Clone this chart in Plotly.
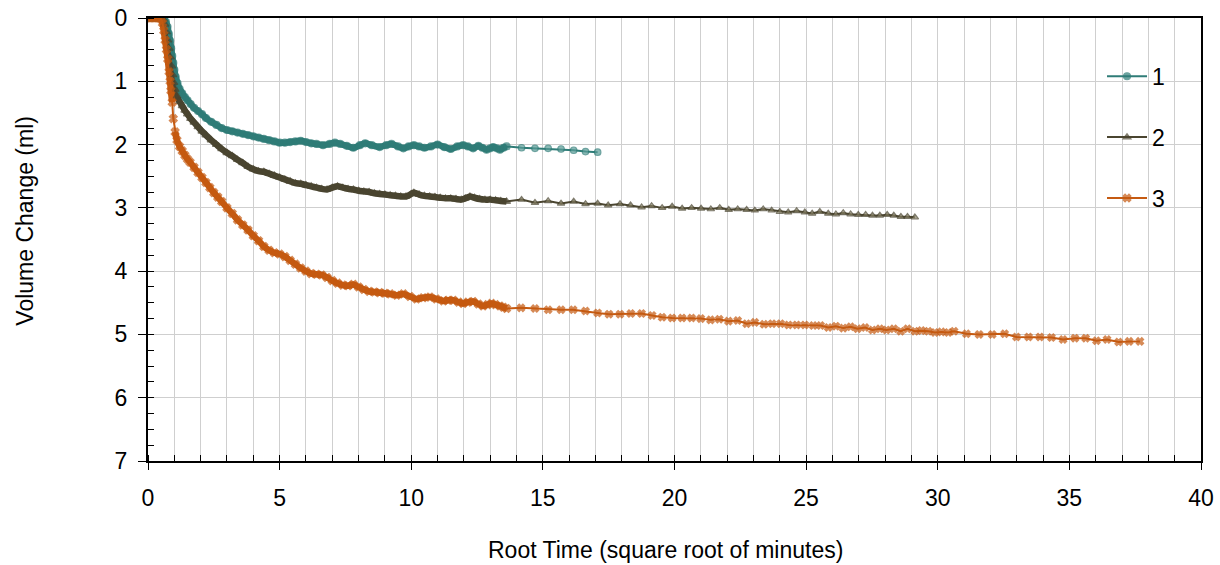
import plotly.graph_objects as go

# Root time (sqrt of minutes) and volume change (ml) for each specimen
x1 = [0.0, 0.1, 0.2, 0.3, 0.4, 0.5, 0.6, 0.68, 0.74, 0.79, 0.84, 0.88, 0.92, 0.96, 1.0, 1.05,
      1.12, 1.2, 1.3, 1.4, 1.5, 1.62, 1.75, 1.9, 2.05, 2.2, 2.4, 2.6, 2.8, 3.0, 3.2, 3.4, 3.6,
      3.8, 4.0, 4.2, 4.4, 4.6, 4.8, 5.0, 5.2, 5.4, 5.6, 5.8, 6.0, 6.2, 6.4, 6.65, 6.9, 7.1,
      7.3, 7.55, 7.8, 8.05, 8.25, 8.5, 8.8, 9.05, 9.25, 9.5, 9.7, 9.9, 10.1, 10.3, 10.5, 10.75,
      11.0, 11.25, 11.5, 11.75, 11.97, 12.15, 12.35, 12.55, 12.7, 12.86, 13.0, 13.11, 13.25,
      13.37, 13.5, 13.62,
      14.19, 14.70, 15.20, 15.69, 16.17, 16.62, 17.08]
y1 = [0.0, 0.0, 0.0, 0.0, 0.0, 0.0, 0.01, 0.06, 0.14, 0.25, 0.36, 0.48, 0.60, 0.71, 0.82, 0.93,
      1.03, 1.12, 1.19, 1.25, 1.30, 1.36, 1.42, 1.47, 1.52, 1.58, 1.64, 1.69, 1.74, 1.77, 1.79,
      1.81, 1.83, 1.85, 1.87, 1.89, 1.91, 1.93, 1.95, 1.97, 1.97, 1.96, 1.95, 1.94, 1.96, 1.98,
      1.99, 2.01, 1.99, 1.97, 1.99, 2.02, 2.05, 2.01, 1.98, 2.01, 2.04, 2.01, 1.99, 2.03, 2.06,
      2.03, 2.01, 2.03, 2.05, 2.03, 2.00, 2.04, 2.07, 2.03, 2.01, 2.03, 2.06, 2.02, 2.05, 2.08,
      2.06, 2.04, 2.06, 2.08, 2.05, 2.03,
      2.05, 2.06, 2.06, 2.07, 2.09, 2.11, 2.12]

x2 = [0.0, 0.1, 0.2, 0.3, 0.4, 0.5, 0.58, 0.64, 0.7, 0.75, 0.8, 0.85, 0.9, 0.94, 0.98, 1.03,
      1.1, 1.2, 1.3, 1.4, 1.5, 1.62, 1.75, 1.9, 2.05, 2.2, 2.4, 2.6, 2.8, 3.0, 3.2, 3.4, 3.6,
      3.8, 4.0, 4.2, 4.4, 4.6, 4.8, 5.0, 5.2, 5.4, 5.6, 5.8, 6.0, 6.2, 6.4, 6.6, 6.8, 7.0, 7.2,
      7.4, 7.6, 7.8, 8.0, 8.2, 8.4, 8.6, 8.8, 9.0, 9.2, 9.4, 9.6, 9.8, 10.0, 10.1, 10.3, 10.5,
      10.7, 10.9, 11.1, 11.3, 11.5, 11.7, 11.9, 12.05, 12.23, 12.4, 12.6, 12.8, 13.0, 13.2,
      13.4, 13.62,
      14.19, 14.70, 15.20, 15.69, 16.17, 16.62, 17.08, 17.48, 17.93, 18.33, 18.75, 19.13, 19.53,
      19.91, 20.29, 20.65, 21.01, 21.38, 21.72, 22.06, 22.40, 22.74, 23.05, 23.37, 23.69, 24.00,
      24.32, 24.64, 24.95, 25.23, 25.52, 25.84, 26.13, 26.41, 26.69, 26.98, 27.26, 27.52, 27.80,
      28.08, 28.33, 28.60, 28.85, 29.13]
y2 = [0.0, 0.0, 0.0, 0.0, 0.0, 0.0, 0.02, 0.10, 0.22, 0.35, 0.48, 0.62, 0.76, 0.90, 1.02, 1.13,
      1.24, 1.32, 1.39, 1.46, 1.52, 1.59, 1.65, 1.72, 1.79, 1.85, 1.93, 2.00, 2.07, 2.13, 2.18,
      2.24, 2.29, 2.35, 2.39, 2.42, 2.43, 2.46, 2.49, 2.52, 2.55, 2.58, 2.61, 2.62, 2.64, 2.66,
      2.68, 2.70, 2.71, 2.68, 2.66, 2.68, 2.70, 2.71, 2.73, 2.74, 2.75, 2.77, 2.78, 2.79, 2.80,
      2.81, 2.82, 2.82, 2.78, 2.76, 2.79, 2.81, 2.82, 2.83, 2.84, 2.85, 2.85, 2.86, 2.87, 2.85,
      2.82, 2.84, 2.86, 2.87, 2.87, 2.88, 2.89, 2.90,
      2.87, 2.92, 2.89, 2.93, 2.90, 2.94, 2.93, 2.96, 2.94, 2.96, 2.99, 2.97, 3.00, 2.98, 3.01,
      3.00, 3.01, 3.02, 3.00, 3.03, 3.02, 3.03, 3.04, 3.02, 3.04, 3.06, 3.07, 3.05, 3.07, 3.09,
      3.06, 3.09, 3.10, 3.08, 3.10, 3.11, 3.11, 3.12, 3.12, 3.11, 3.12, 3.14, 3.14, 3.15]

x3 = [0.0, 0.1, 0.2, 0.3, 0.4, 0.5, 0.55, 0.6, 0.65, 0.7, 0.75, 0.8, 0.84, 0.87, 0.92, 0.96,
      1.03, 1.1, 1.2, 1.3, 1.4, 1.5, 1.6, 1.75, 1.9, 2.05, 2.2, 2.35, 2.5, 2.65, 2.8, 3.0, 3.2,
      3.4, 3.6, 3.8, 4.0, 4.2, 4.4, 4.6, 4.8, 5.0, 5.2, 5.4, 5.6, 5.8, 6.0, 6.2, 6.4, 6.6, 6.8,
      7.0, 7.2, 7.4, 7.6, 7.8, 8.0, 8.2, 8.4, 8.6, 8.8, 9.0, 9.2, 9.45, 9.7, 9.95, 10.2, 10.45,
      10.71, 10.95, 11.22, 11.4, 11.6, 11.8, 11.97, 12.15, 12.35, 12.55, 12.73, 12.9, 13.05,
      13.2, 13.37, 13.5, 13.62,
      14.17, 14.70, 15.20, 15.69, 16.15, 16.62, 17.08, 17.51, 17.93, 18.34, 18.75, 19.15, 19.53,
      19.91, 20.29, 20.65, 21.00, 21.37, 21.70, 22.05, 22.40, 22.74, 23.05, 23.40, 23.71, 24.03,
      24.33, 24.64, 24.95, 25.27, 25.55, 25.84, 26.13, 26.41, 26.69, 26.95, 27.24, 27.52, 27.80,
      28.05, 28.33, 28.59, 28.85, 29.13, 29.38, 29.64, 29.89, 30.14, 30.40, 30.62, 31.09, 31.57,
      32.07, 32.54, 32.99, 33.45, 33.88, 34.32, 34.76, 35.21, 35.62, 36.03, 36.43, 36.87, 37.27,
      37.68]
y3 = [0.0, 0.0, 0.0, 0.0, 0.0, 0.02, 0.08, 0.20, 0.35, 0.50, 0.65, 0.85, 1.00, 1.15, 1.33, 1.59,
      1.80, 1.93, 2.03, 2.10, 2.17, 2.23, 2.28, 2.36, 2.44, 2.52, 2.60, 2.68, 2.76, 2.83, 2.90,
      3.00, 3.09, 3.19, 3.27, 3.35, 3.44, 3.52, 3.61, 3.67, 3.71, 3.73, 3.77, 3.83, 3.89, 3.95,
      4.00, 4.04, 4.05, 4.06, 4.10, 4.15, 4.19, 4.22, 4.23, 4.21, 4.25, 4.29, 4.32, 4.33, 4.34,
      4.35, 4.36, 4.38, 4.36, 4.40, 4.44, 4.42, 4.41, 4.44, 4.47, 4.46, 4.46, 4.49, 4.51, 4.49,
      4.48, 4.52, 4.55, 4.53, 4.51, 4.53, 4.55, 4.57, 4.59,
      4.58, 4.59, 4.61, 4.61, 4.61, 4.63, 4.66, 4.68, 4.68, 4.67, 4.67, 4.70, 4.73, 4.74, 4.74,
      4.74, 4.75, 4.77, 4.76, 4.79, 4.78, 4.83, 4.81, 4.84, 4.83, 4.83, 4.85, 4.85, 4.85, 4.86,
      4.86, 4.89, 4.87, 4.90, 4.88, 4.91, 4.89, 4.93, 4.91, 4.93, 4.91, 4.95, 4.91, 4.95, 4.94,
      4.95, 4.97, 4.96, 4.97, 4.95, 4.99, 5.00, 5.00, 4.99, 5.04, 5.04, 5.04, 5.05, 5.08, 5.06,
      5.06, 5.10, 5.08, 5.12, 5.11, 5.11]

series_names = ["1", "2", "3"]
line_colors = ["#2F7C77", "#4A4530", "#C55A11"]
fill_colors = ["#5A9C97", "#857F62", "#C55A11"]
symbols = ["circle", "triangle-up", "x"]

# readings up to this root time were logged frequently and draw as a thick band
DENSE_END = 13.62
# a jump bigger than this between neighbouring readings leaves the band open
BAND_BREAK = 0.205

FONT = "Liberation Sans, Arial, sans-serif"
TXT = 23

fig = go.Figure()
data = [(x1, y1), (x2, y2), (x3, y3)]

# thick band under the frequently logged part of each curve
for i, (xs, ys) in enumerate(data):
    bx, by = [], []
    prev = None
    for xv, yv in zip(xs, ys):
        if xv > DENSE_END:
            break
        if prev is not None and abs(yv - prev) > BAND_BREAK:
            bx.append(None)
            by.append(None)
        bx.append(xv)
        by.append(yv)
        prev = yv
    fig.add_trace(go.Scatter(
        x=bx, y=by, mode="lines", showlegend=False, hoverinfo="skip",
        connectgaps=False,
        line=dict(color=line_colors[i], width=6.5, shape="spline", smoothing=0.6),
    ))

for i, (xs, ys) in enumerate(data):
    sizes = [7 if xv <= DENSE_END else 6.5 for xv in xs]
    fills = [line_colors[i] if xv <= DENSE_END else fill_colors[i] for xv in xs]
    fig.add_trace(go.Scatter(
        x=xs, y=ys, name=series_names[i], legendgroup=series_names[i],
        mode="lines+markers",
        line=dict(color=line_colors[i], width=2),
        marker=dict(symbol=symbols[i], size=sizes, color=fills,
                    line=dict(color=line_colors[i], width=1.2)),
    ))

fig.update_layout(
    width=1220, height=565,
    margin=dict(l=148, r=19, t=18, b=104),
    paper_bgcolor="white", plot_bgcolor="white",
    font=dict(family=FONT, size=TXT, color="black"),
    showlegend=True,
    legend=dict(x=0.906, y=0.917, xanchor="left", yanchor="top",
                bgcolor="rgba(0,0,0,0)", font=dict(size=TXT, family=FONT),
                tracegroupgap=28, itemwidth=40),
    xaxis=dict(
        range=[0, 40], dtick=5, tick0=0, automargin=False,
        showline=True, linecolor="black", linewidth=2, mirror=True,
        ticks="outside", ticklen=7, tickcolor="black", tickwidth=1,
        ticklabelstandoff=8,
        showgrid=True, gridcolor="#CFCFCF", gridwidth=1,
        minor=dict(dtick=1, ticks="inside", ticklen=6, tickcolor="black",
                   showgrid=True, gridcolor="#CFCFCF", gridwidth=1),
        zeroline=False,
        tickfont=dict(size=TXT),
    ),
    yaxis=dict(
        range=[7, 0], dtick=1, tick0=0, automargin=False,
        showline=True, linecolor="black", linewidth=2, mirror=True,
        ticks="outside", ticklen=8, tickcolor="black", tickwidth=1,
        ticklabelstandoff=6,
        showgrid=True, gridcolor="#CFCFCF", gridwidth=1,
        minor=dict(dtick=0.25, ticks="inside", ticklen=6, tickcolor="black", showgrid=False),
        zeroline=False,
        tickfont=dict(size=TXT),
    ),
    annotations=[
        dict(text="Root Time (square root of minutes)", xref="paper", yref="paper",
             x=0.491, y=-0.201, xanchor="center", yanchor="middle", showarrow=False,
             font=dict(size=TXT, family=FONT)),
        dict(text="Volume Change (ml)", xref="paper", yref="paper",
             x=-0.117, y=0.542, xanchor="center", yanchor="middle", showarrow=False,
             textangle=-90, font=dict(size=TXT, family=FONT)),
    ],
)

fig.write_html("out.html")
